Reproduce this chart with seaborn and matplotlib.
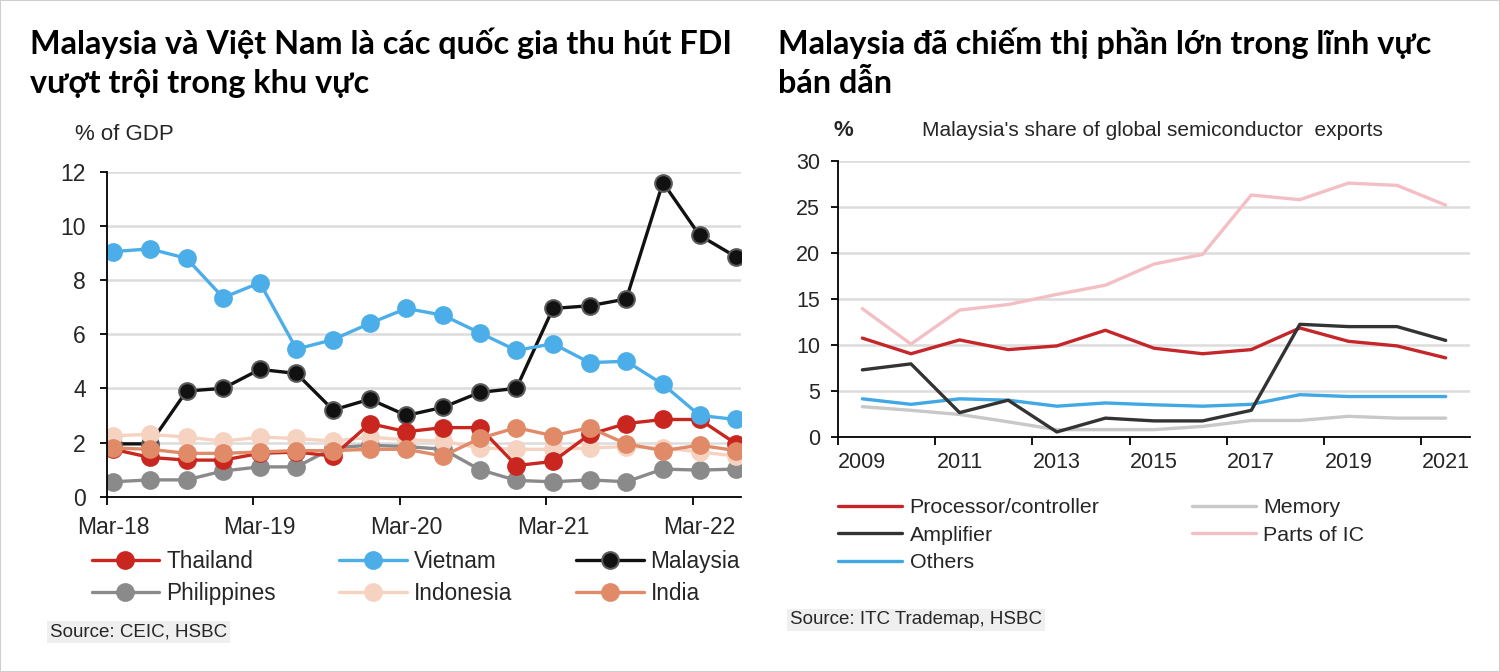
import matplotlib
matplotlib.use("Agg")
import matplotlib.pyplot as plt
import numpy as np
import pandas as pd
import seaborn as sns

# FDI inflows, % of GDP (quarterly, Mar-18 .. Jun-22)
quarters = ["Mar-18", "Jun-18", "Sep-18", "Dec-18", "Mar-19", "Jun-19", "Sep-19", "Dec-19",
            "Mar-20", "Jun-20", "Sep-20", "Dec-20", "Mar-21", "Jun-21", "Sep-21", "Dec-21",
            "Mar-22", "Jun-22"]
thailand = [1.75, 1.45, 1.35, 1.35, 1.6, 1.65, 1.5, 2.7, 2.4, 2.55, 2.55, 1.15, 1.3, 2.3, 2.7, 2.85, 2.85, 1.95]
vietnam = [9.05, 9.15, 8.8, 7.35, 7.9, 5.45, 5.8, 6.4, 6.95, 6.7, 6.05, 5.4, 5.65, 4.95, 5.0, 4.15, 3.0, 2.85]
malaysia = [1.95, 1.95, 3.9, 4.0, 4.7, 4.55, 3.2, 3.6, 3.0, 3.3, 3.85, 4.0, 6.95, 7.05, 7.3, 11.6, 9.65, 8.85]
philippines = [0.55, 0.62, 0.62, 0.95, 1.1, 1.1, 1.8, 1.9, 1.85, 1.75, 1.0, 0.6, 0.55, 0.62, 0.55, 1.02, 0.98, 1.02]
indonesia = [2.25, 2.3, 2.2, 2.05, 2.2, 2.15, 2.05, 2.2, 2.1, 2.05, 1.8, 1.75, 1.75, 1.8, 1.85, 1.8, 1.65, 1.5]
india = [1.8, 1.75, 1.6, 1.6, 1.65, 1.7, 1.7, 1.75, 1.75, 1.5, 2.15, 2.55, 2.25, 2.55, 1.95, 1.7, 1.9, 1.7]

# Malaysia's share of global semiconductor exports, %
years = list(range(2009, 2022))
processor = [10.75, 9.05, 10.55, 9.5, 9.9, 11.6, 9.65, 9.05, 9.5, 11.85, 10.4, 9.9, 8.6]
memory = [3.3, 2.9, 2.45, 1.65, 0.8, 0.8, 0.8, 1.15, 1.8, 1.8, 2.25, 2.05, 2.05]
amplifier = [7.3, 7.95, 2.65, 4.0, 0.55, 2.05, 1.75, 1.75, 2.9, 12.25, 12.0, 12.0, 10.5]
parts_ic = [13.95, 10.1, 13.8, 14.4, 15.5, 16.5, 18.8, 19.85, 26.3, 25.8, 27.6, 27.35, 25.2]
others = [4.15, 3.55, 4.15, 4.0, 3.35, 3.7, 3.5, 3.35, 3.55, 4.6, 4.4, 4.4, 4.4]

sns.set_theme(style="white")
plt.rcParams["font.family"] = ["Liberation Sans", "DejaVu Sans"]
plt.rcParams["font.size"] = 16

GRID = "#dcdcdc"

fig = plt.figure(figsize=(15, 6.72), dpi=100)
ax1 = fig.add_axes([0.0711, 0.2609, 0.4229, 0.4836])
ax2 = fig.add_axes([0.5587, 0.3497, 0.4213, 0.4107])

# ---- left chart ----
fdi = pd.DataFrame({
    "q": np.arange(len(quarters)),
    "Thailand": thailand, "Vietnam": vietnam, "Malaysia": malaysia,
    "Philippines": philippines, "Indonesia": indonesia, "India": india,
}).melt(id_vars="q", var_name="country", value_name="pct")

fdi_colors = {"Thailand": "#c8261e", "Vietnam": "#4baee8", "Malaysia": "#111111",
              "Philippines": "#8a8a8a", "Indonesia": "#f6d2c0", "India": "#e08a68"}
fdi_edges = dict(fdi_colors, Malaysia="#5a5a5a")
draw_order = ["Philippines", "Malaysia", "Indonesia", "Thailand", "India", "Vietnam"]

for name in draw_order:
    sub = fdi[fdi["country"] == name]
    sns.lineplot(data=sub, x="q", y="pct", ax=ax1, color=fdi_colors[name], lw=2.4,
                 marker="o", markersize=12, markeredgecolor=fdi_edges[name],
                 markeredgewidth=1.5, legend=False)
fdi_handles = dict(zip(draw_order, ax1.lines))

ax1.set_xlim(-0.18, 17.13)
ax1.set_ylim(0, 12)
ax1.set_yticks(range(0, 13, 2))
ax1.yaxis.grid(True, color=GRID, lw=1.8)
ax1.set_axisbelow(True)
ax1.set_xticks([i - 0.18 for i in range(0, 18, 4)])
ax1.set_xticklabels([])
ax1.set_xticks(range(0, 18, 4), minor=True)
ax1.set_xticklabels(quarters[::4], minor=True)
ax1.tick_params(axis="x", which="major", length=6, width=1.3, color="black", direction="out", bottom=True)
ax1.tick_params(axis="x", which="minor", length=0, pad=14, labelsize=16.5)
ax1.tick_params(axis="y", length=5, width=1.3, color="black", direction="out", left=True, pad=10, labelsize=16.5)
ax1.set_xlabel("")
ax1.set_ylabel("")
for s in ["top", "right"]:
    ax1.spines[s].set_visible(False)
for s in ["left", "bottom"]:
    ax1.spines[s].set_color("black")
    ax1.spines[s].set_linewidth(1.3)

legend_order = ["Thailand", "Philippines", "Vietnam", "Indonesia", "Malaysia", "India"]
fig.legend([fdi_handles[n] for n in legend_order], legend_order, ncol=3,
           loc="upper left", bbox_to_anchor=(0.061, 1 - 550 / 672), frameon=False,
           fontsize=16.3, handlelength=3.0, handletextpad=0.3, columnspacing=2.8,
           labelspacing=0.38, borderpad=0, borderaxespad=0)

fig.text(75 / 1500, 1 - 135 / 672, "% of GDP", fontsize=16, va="center", ha="left")
fig.text(50 / 1500, 1 - 632 / 672, "Source: CEIC, HSBC", fontsize=13.5, va="center", ha="left",
         bbox=dict(facecolor="#efefef", edgecolor="none", pad=2))

# ---- right chart ----
semi = pd.DataFrame({
    "year": np.arange(len(years)),
    "Processor/controller": processor, "Memory": memory, "Amplifier": amplifier,
    "Parts of IC": parts_ic, "Others": others,
}).melt(id_vars="year", var_name="product", value_name="share")

semi_colors = {"Processor/controller": "#c4262a", "Memory": "#c8c8c8", "Amplifier": "#333333",
               "Parts of IC": "#f4bfc4", "Others": "#41a8e4"}
semi_order = ["Parts of IC", "Memory", "Others", "Processor/controller", "Amplifier"]
for name in semi_order:
    sub = semi[semi["product"] == name]
    sns.lineplot(data=sub, x="year", y="share", ax=ax2, color=semi_colors[name], lw=2.4, legend=False)
semi_handles = dict(zip(semi_order, ax2.lines))

ax2.set_xlim(-0.5, 12.5)
ax2.set_ylim(0, 30)
ax2.set_yticks(range(0, 31, 5))
ax2.yaxis.grid(True, color=GRID, lw=1.8)
ax2.set_axisbelow(True)
ax2.set_xticks([i - 0.5 for i in range(0, 13, 2)])
ax2.set_xticklabels([])
ax2.set_xticks(range(0, 13, 2), minor=True)
ax2.set_xticklabels([str(y) for y in years[::2]], minor=True)
ax2.tick_params(axis="x", which="major", length=6, width=1.3, color="black", direction="out", bottom=True)
ax2.tick_params(axis="x", which="minor", length=0, pad=11, labelsize=15.5)
ax2.tick_params(axis="y", length=5, width=1.3, color="black", direction="out", left=True, pad=8, labelsize=15.5)
ax2.set_xlabel("")
ax2.set_ylabel("")
for s in ["top", "right"]:
    ax2.spines[s].set_visible(False)
for s in ["left", "bottom"]:
    ax2.spines[s].set_color("black")
    ax2.spines[s].set_linewidth(1.3)

semi_legend = ["Processor/controller", "Amplifier", "Others", "Memory", "Parts of IC"]
fig.legend([semi_handles[n] for n in semi_legend], semi_legend, ncol=2,
           loc="upper left", bbox_to_anchor=(838 / 1500, 1 - 498 / 672), frameon=False,
           fontsize=15.4, handlelength=3.0, handletextpad=0.35, columnspacing=4.3,
           labelspacing=0.4, borderpad=0, borderaxespad=0)

fig.text(833 / 1500, 1 - 130 / 672, "%", fontsize=16, fontweight="bold", va="center", ha="left")
fig.text(922 / 1500, 1 - 130 / 672, "Malaysia's share of global semiconductor  exports",
         fontsize=15, va="center", ha="left")
fig.text(790 / 1500, 1 - 620 / 672, "Source: ITC Trademap, HSBC", fontsize=13.5, va="center", ha="left",
         bbox=dict(facecolor="#efefef", edgecolor="none", pad=2))

# ---- headlines ----
title_font = ["Lato", "Noto Sans", "DejaVu Sans"]
for x, lines in [(30, ["Malaysia và Việt Nam là các quốc gia thu hút FDI", "vượt trội trong khu vực"]),
                 (778, ["Malaysia đã chiếm thị phần lớn trong lĩnh vực", "bán dẫn"])]:
    for y, line in zip([43, 83], lines):
        fig.text(x / 1500, 1 - y / 672, line, fontsize=23.3, fontweight="bold",
                 family=title_font, color="black", va="center", ha="left")

fig.add_artist(plt.Rectangle((0, 0), 1, 1, transform=fig.transFigure, fill=False,
                             edgecolor="#cfcfcf", lw=1.5))

fig.savefig("out.png", dpi=100)
